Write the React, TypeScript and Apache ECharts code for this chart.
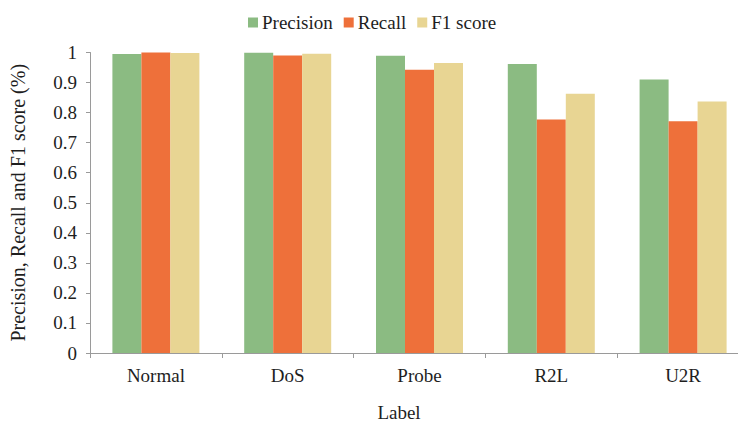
import React, { useEffect, useRef } from "react";
import * as echarts from "echarts";

const categories = ["Normal", "DoS", "Probe", "R2L", "U2R"];
const precision = [0.995, 0.999, 0.989, 0.962, 0.91];
const recall = [1.0, 0.99, 0.943, 0.777, 0.771];
const f1score = [0.998, 0.996, 0.965, 0.863, 0.837];
const yTicks = [0, 0.1, 0.2, 0.3, 0.4, 0.5, 0.6, 0.7, 0.8, 0.9, 1];

const FONT = "'Liberation Serif', 'Times New Roman', 'DejaVu Serif', serif";
const TXT = "#1e1e1e";

export default function App() {
  const ref = useRef<HTMLDivElement>(null);
  useEffect(() => {
    if (!ref.current) return;
    const chart = echarts.init(ref.current, null, { renderer: "svg" });
    chart.setOption({
      animation: false,
      backgroundColor: "#ffffff",
      textStyle: { fontFamily: FONT, color: TXT },
      legend: {
        top: 8,
        left: 243,
        itemWidth: 10,
        itemHeight: 10,
        itemGap: 11,
        icon: "rect",
        textStyle: { fontFamily: FONT, fontSize: 19, color: TXT, padding: [0, 0, 0, -1] },
        data: ["Precision", "Recall", "F1 score"],
      },
      grid: { left: 90, right: 11, top: 52.5, bottom: 68, containLabel: false },
      xAxis: {
        type: "category",
        data: categories,
        axisLine: { lineStyle: { color: "#9a9a9a", width: 1 } },
        axisTick: { show: true, length: 5, inside: false, alignWithLabel: false, lineStyle: { color: "#9a9a9a" } },
        axisLabel: { fontFamily: FONT, fontSize: 19, color: TXT, margin: 13 },
        splitLine: { show: false },
      },
      yAxis: {
        type: "value",
        min: 0,
        max: 1,
        interval: 0.1,
        name: "Precision, Recall and F1 score (%)",
        nameLocation: "middle",
        nameGap: 62,
        nameTextStyle: { fontFamily: FONT, fontSize: 20, color: TXT },
        axisLine: { show: true, lineStyle: { color: "#9a9a9a", width: 1 } },
        axisTick: { show: true, length: 4, lineStyle: { color: "#9a9a9a" } },
        axisLabel: {
          fontFamily: FONT,
          fontSize: 19,
          color: TXT,
          margin: 13,
          formatter: (v: number) => {
            const t = yTicks.find((x) => Math.abs(x - v) < 1e-6);
            return t === undefined ? "" : String(t);
          },
        },
        splitLine: { show: false },
      },
      series: [
        { name: "Precision", type: "bar", data: precision, barWidth: 29, barGap: "0%", itemStyle: { color: "#8bbb82" } },
        { name: "Recall", type: "bar", data: recall, barWidth: 29, barGap: "0%", itemStyle: { color: "#ee703a" } },
        { name: "F1 score", type: "bar", data: f1score, barWidth: 29, barGap: "0%", itemStyle: { color: "#e8d593" } },
      ],
      graphic: [
        {
          type: "text",
          x: 399,
          y: 412,
          style: { text: "Label", fontFamily: FONT, fontSize: 19, fill: TXT, align: "center", verticalAlign: "middle" },
        },
      ],
    });
    return () => chart.dispose();
  }, []);
  return (
    <div style={{ position: "fixed", left: 0, top: 0, width: 738, height: 421, overflow: "hidden", background: "#fff" }}>
      <div ref={ref} style={{ width: 760, height: 421 }} />
    </div>
  );
}
